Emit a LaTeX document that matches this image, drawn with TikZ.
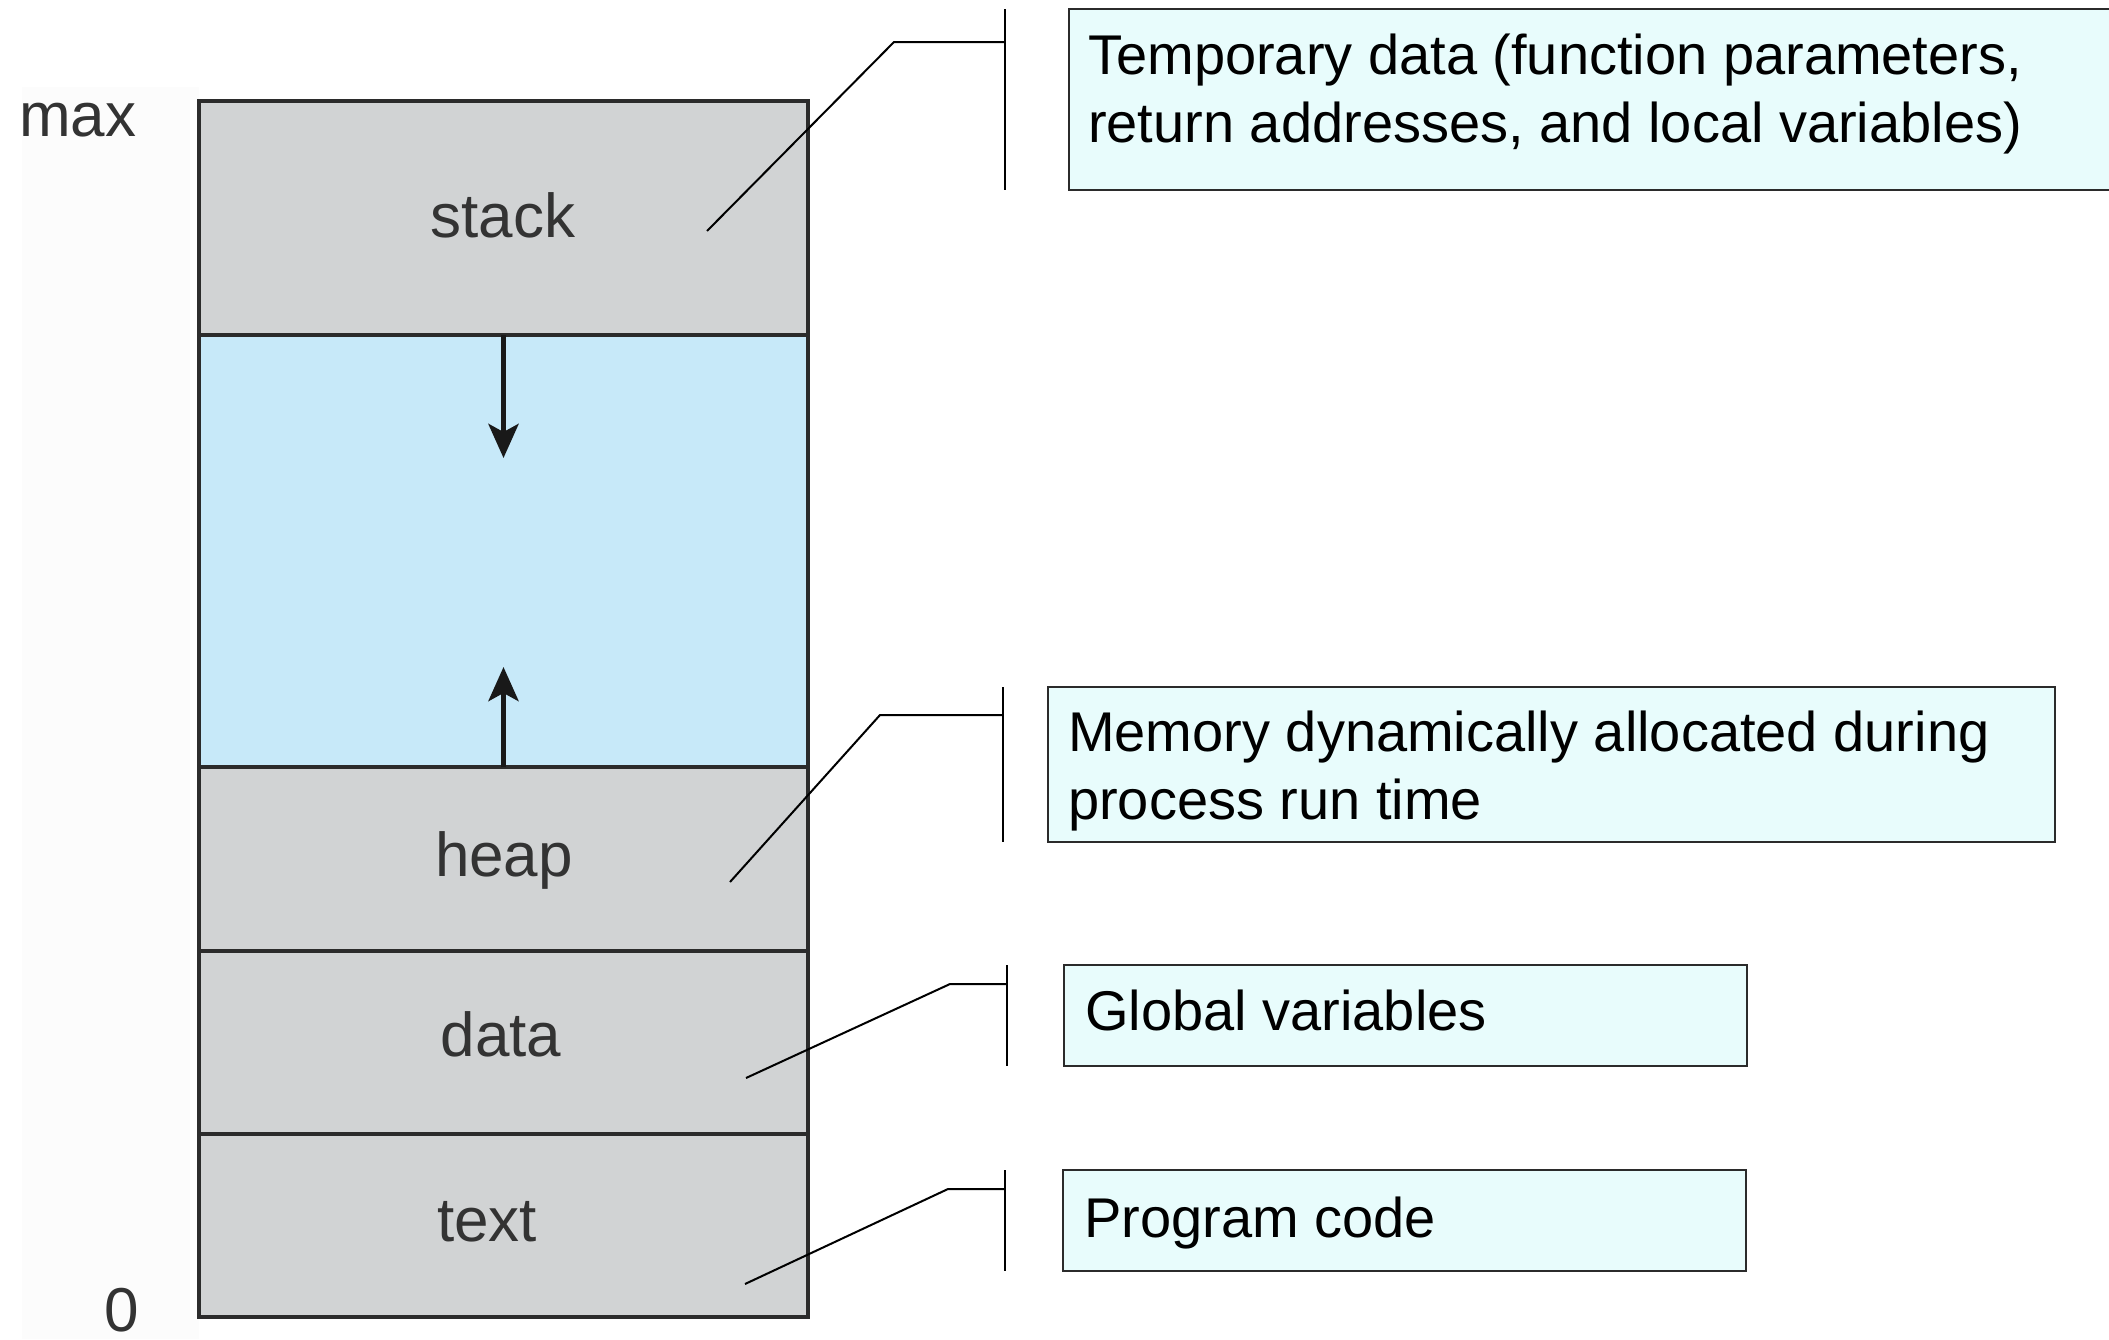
\documentclass[tikz,border=0pt]{standalone}
\usepackage{fontspec}
\setmainfont{Liberation Sans}
\usetikzlibrary{arrows.meta}
\definecolor{seggray}{HTML}{D1D3D4}
\definecolor{segblue}{HTML}{C7E9F9}
\definecolor{notefill}{HTML}{E8FCFC}
\definecolor{edgecol}{HTML}{2B2B2B}
\definecolor{labcol}{HTML}{333333}
\definecolor{faint}{HTML}{FCFCFC}
\tikzset{
  seg/.style={draw=edgecol, line width=3.5pt, rectangle, anchor=north west, minimum width=609pt, inner sep=0pt, outer sep=0pt},
  seglab/.style={anchor=base, inner sep=0pt, text=labcol, font=\fontsize{62}{72}\selectfont},
  axislab/.style={anchor=base west, inner sep=0pt, text=labcol, font=\fontsize{62}{72}\selectfont},
  note/.style={draw=edgecol, line width=2.5pt, fill=notefill, rectangle, anchor=north west, inner sep=0pt, outer sep=0pt},
  notetext/.style={anchor=base west, inner sep=0pt, text=black, font=\fontsize{56}{68}\selectfont},
  leader/.style={draw=black, line width=2pt},
  growarrow/.style={draw=black!90, line width=5.5pt, -{Stealth[length=34pt,width=30pt,inset=8pt]}}
}
\begin{document}
\begin{tikzpicture}[x=1pt,y=-1pt]
\clip (0,0) rectangle (2109,1339);
\fill[white] (0,0) rectangle (2109,1339);
\fill[faint] (22,87) rectangle (199,1339);

% memory segments
\node[seg, fill=seggray, minimum height=234pt] (stack) at (199,101) {};
\node[seg, fill=segblue, minimum height=432pt] (free) at (199,335) {};
\node[seg, fill=seggray, minimum height=184pt] (heap) at (199,767) {};
\node[seg, fill=seggray, minimum height=183pt] (data) at (199,951) {};
\node[seg, fill=seggray, minimum height=183pt] (text) at (199,1134) {};

\node[seglab] (lstack) at (503,237) {stack};
\node[seglab] (lheap) at (504,876) {heap};
\node[seglab] (ldata) at (501,1056) {data};
\node[seglab] (ltext) at (487,1241) {text};

\node[axislab] (lmax) at (19,136) {max};
\node[axislab] (lzero) at (104,1331) {0};

% growth arrows
\coordinate (dtip) at (503.5,458);
\coordinate (utip) at (503.5,667);
\draw[growarrow] (stack.south) -- (dtip);
\draw[growarrow] (heap.north) -- (utip);

% notes
\node[note, minimum width=1080pt, minimum height=181pt] (n1) at (1069,9) {};
\node[note, minimum width=1007pt, minimum height=155pt] (n2) at (1048,687) {};
\node[note, minimum width=683pt, minimum height=101pt] (n3) at (1064,965) {};
\node[note, minimum width=683pt, minimum height=101pt] (n4) at (1063,1170) {};

\node[notetext] (t1a) at (1088,74) {Temporary data (function parameters,};
\node[notetext] (t1b) at (1088,142) {return addresses, and local variables)};
\node[notetext] (t2a) at (1068,751) {Memory dynamically allocated during};
\node[notetext] (t2b) at (1068,819) {process run time};
\node[notetext] (t3) at (1085,1030) {Global variables};
\node[notetext] (t4) at (1084,1237) {Program code};

% leaders
\coordinate (p1) at (707,231);  \coordinate (k1) at (894,42);   \coordinate (b1) at (1005,42);
\coordinate (p2) at (730,882);  \coordinate (k2) at (880,715);  \coordinate (b2) at (1003,715);
\coordinate (p3) at (746,1078); \coordinate (k3) at (950,984);  \coordinate (b3) at (1007,984);
\coordinate (p4) at (745,1284); \coordinate (k4) at (948,1189); \coordinate (b4) at (1005,1189);

\draw[leader] (p1) -- (k1) -- (b1);
\draw[leader] (b1 |- n1.north) -- (b1 |- n1.south);
\draw[leader] (p2) -- (k2) -- (b2);
\draw[leader] (b2 |- n2.north) -- (b2 |- n2.south);
\draw[leader] (p3) -- (k3) -- (b3);
\draw[leader] (b3 |- n3.north) -- (b3 |- n3.south);
\draw[leader] (p4) -- (k4) -- (b4);
\draw[leader] (b4 |- n4.north) -- (b4 |- n4.south);
\end{tikzpicture}
\end{document}
